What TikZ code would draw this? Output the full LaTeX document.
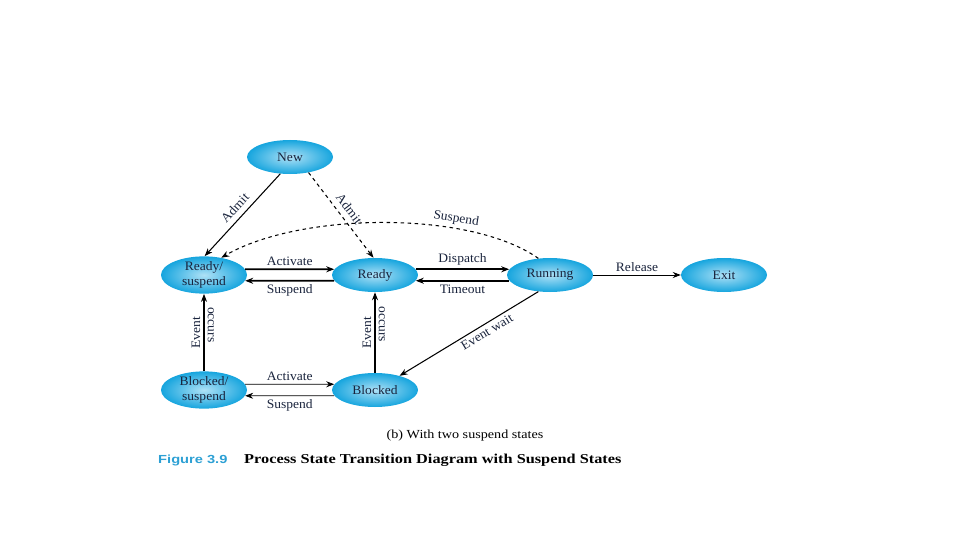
\documentclass[tikz,border=0pt]{standalone}
\usepackage{fontspec}
\setmainfont[FakeStretch=1.05]{Liberation Serif}
\newfontfamily\figfont[FakeStretch=1.25]{Liberation Sans}
\newfontfamily\ttlfont[FakeStretch=1.2]{Liberation Serif}
\usepackage{tikz}
\usetikzlibrary{positioning,arrows.meta,shapes.geometric}
\definecolor{stblue}{RGB}{22,165,222}
\definecolor{stlight}{RGB}{175,225,246}
\definecolor{figblue}{RGB}{45,160,212}
\definecolor{txtdark}{RGB}{25,35,60}
\begin{document}
\begin{tikzpicture}[x=0.03cm,y=-0.03cm,>={Stealth[length=2.4mm,width=1.8mm]},
  state/.style={ellipse,inner sep=0pt,minimum width=2.58cm,minimum height=1.02cm,
    inner color=stlight,outer color=stblue,text=txtdark,align=center,font=\fontsize{11}{12.5}\selectfont},
  lbl/.style={font=\fontsize{11}{12}\selectfont,text=txtdark,inner sep=2.5pt},
  heavy/.style={->,line width=1.4pt},
  light/.style={->,line width=0.7pt}]
\useasboundingbox (0,0) rectangle (960,540);
\node[state] (nw) at (290,157) {New};
\node[state] (rs) at (204,275) {Ready/\\suspend};
\node[state] (rd) at (375,275) {Ready};
\node[state] (rn) at (550,275) {Running};
\node[state] (ex) at (724,275) {Exit};
\node[state] (bs) at (204,390) {Blocked/\\suspend};
\node[state] (bl) at (375,390) {Blocked};
% admit
\draw[->,line width=0.9pt] (nw.240) -- (rs.88) node[lbl,midway,sloped,above=2pt]{Admit};
\draw[->,line width=0.9pt,dashed] (nw.-40) -- (rd.95) node[lbl,midway,sloped,above=2pt]{Admit};
\draw[->,line width=0.9pt,dashed] (rn.125) .. controls (470,210) and (300,212) .. (rs.45)
  node[lbl,pos=.3,sloped,above]{Suspend};
% ready row
\draw[heavy] (rs.8) -- (rd.172) node[lbl,midway,above]{Activate};
\draw[heavy] (rd.188) -- (rs.-8) node[lbl,midway,below]{Suspend};
\draw[heavy] (rd.8) -- (rn.172) node[lbl,midway,above]{Dispatch};
\draw[heavy] (rn.188) -- (rd.-8) node[lbl,midway,below]{Timeout};
\draw[light] (rn) -- (ex) node[lbl,midway,above]{Release};
% event occurs
\draw[heavy] (bs) -- (rs)
  node[lbl,pos=.5,rotate=90,anchor=south]{Event}
  node[lbl,pos=.6,rotate=-90,anchor=south]{occurs};
\draw[heavy] (bl) -- (rd)
  node[lbl,pos=.5,rotate=90,anchor=south]{Event}
  node[lbl,pos=.6,rotate=-90,anchor=south]{occurs};
\draw[->,line width=0.9pt] (rn.235) -- (bl.30) node[lbl,pos=.4,sloped,below]{Event wait};
% blocked row
\draw[light] (bs.8) -- (bl.172) node[lbl,midway,above]{Activate};
\draw[light] (bl.188) -- (bs.-8) node[lbl,midway,below]{Suspend};
% caption
\node[lbl,text=black,font=\fontsize{10.5}{12}\selectfont\addfontfeature{FakeStretch=1.15}] (sub) at (465,436) {(b) With two suspend states};
\node[anchor=west,inner sep=0pt,text=figblue,font=\figfont\bfseries\fontsize{10}{12}\selectfont] (fig) at (158,460) {Figure 3.9};
\node[anchor=west,inner sep=0pt,text=black,font=\ttlfont\bfseries\fontsize{11.6}{13}\selectfont] (ttl) at (244,460) {Process State Transition Diagram with Suspend States};
\end{tikzpicture}
\end{document}
